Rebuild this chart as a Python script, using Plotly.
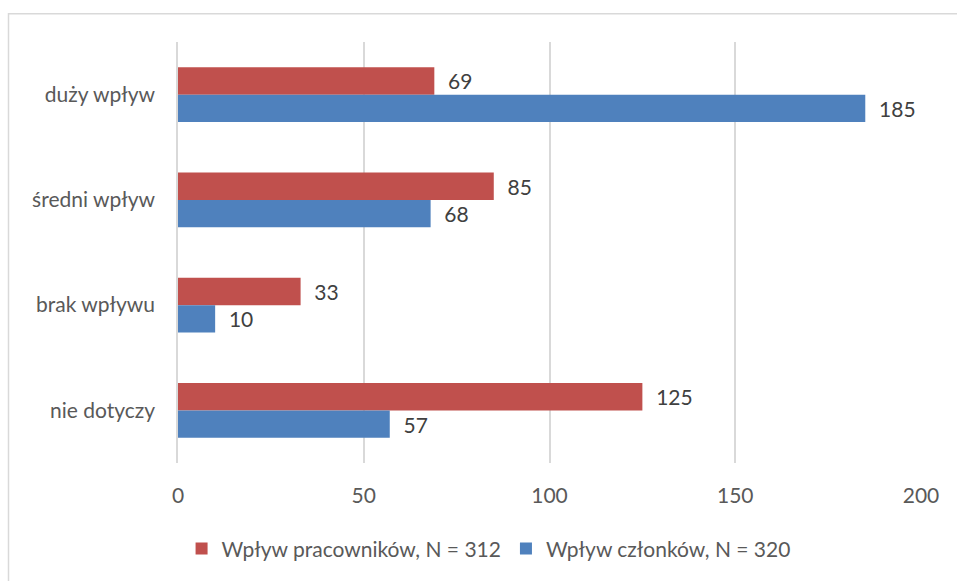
import plotly.graph_objects as go

categories = ['duży wpływ', 'średni wpływ', 'brak wpływu', 'nie dotyczy']
pracownikow = [69, 85, 33, 125]
czlonkow = [185, 68, 10, 57]
series_names = ['Wpływ pracowników, N = 312', 'Wpływ członków, N = 320']
x_ticks = [0, 50, 100, 150, 200]

font_family = 'Lato, Open Sans, sans-serif'
grey_text = '#595959'
fsize = 21

fig = go.Figure()
fig.add_trace(go.Bar(
    y=categories, x=pracownikow, orientation='h', name=series_names[0],
    marker=dict(color='#C0504D', line=dict(width=0)),
    text=pracownikow, texttemplate='&nbsp;&nbsp;%{x}', textposition='outside',
    textfont=dict(size=fsize, color='#404040', family=font_family),
    cliponaxis=False,
))
fig.add_trace(go.Bar(
    y=categories, x=czlonkow, orientation='h', name=series_names[1],
    marker=dict(color='#4F81BD', line=dict(width=0)),
    text=czlonkow, texttemplate='&nbsp;&nbsp;%{x}', textposition='outside',
    textfont=dict(size=fsize, color='#404040', family=font_family),
    cliponaxis=False,
))

fig.update_xaxes(
    range=[0, 200], tickvals=x_ticks, showgrid=True, gridcolor='#D9D9D9', gridwidth=1.5,
    zeroline=False, showline=False, ticks='', ticklabelstandoff=18,
    tickfont=dict(size=fsize, color=grey_text, family=font_family), fixedrange=True,
)
fig.update_yaxes(
    categoryorder='array', categoryarray=categories, range=[3.5, -0.5],
    showline=True, linecolor='#D9D9D9', linewidth=1.5, ticks='', ticklabelstandoff=17,
    tickfont=dict(size=fsize, color=grey_text, family=font_family), showgrid=False,
)

fig.update_layout(
    width=957, height=581, barmode='group', bargap=0.48, bargroupgap=0,
    plot_bgcolor='white', paper_bgcolor='white',
    margin=dict(l=178, r=36, t=42, b=115),
    font=dict(family=font_family, color=grey_text),
    legend=dict(orientation='h', x=0.418, xanchor='center', y=-0.155, yanchor='top',
                font=dict(size=fsize, color=grey_text, family=font_family),
                itemwidth=30, traceorder='normal', tracegroupgap=0),
    showlegend=True,
    shapes=[dict(type='rect', xref='paper', yref='paper',
                 x0=(8.5 - 178) / 743, x1=1.2, y0=-0.5, y1=1 + (42 - 13.5) / 424,
                 line=dict(color='#D9D9D9', width=1.5), layer='below')],
)

fig.write_html('out.html', config={'displayModeBar': False},
               post_script="document.body.style.margin='0';")
